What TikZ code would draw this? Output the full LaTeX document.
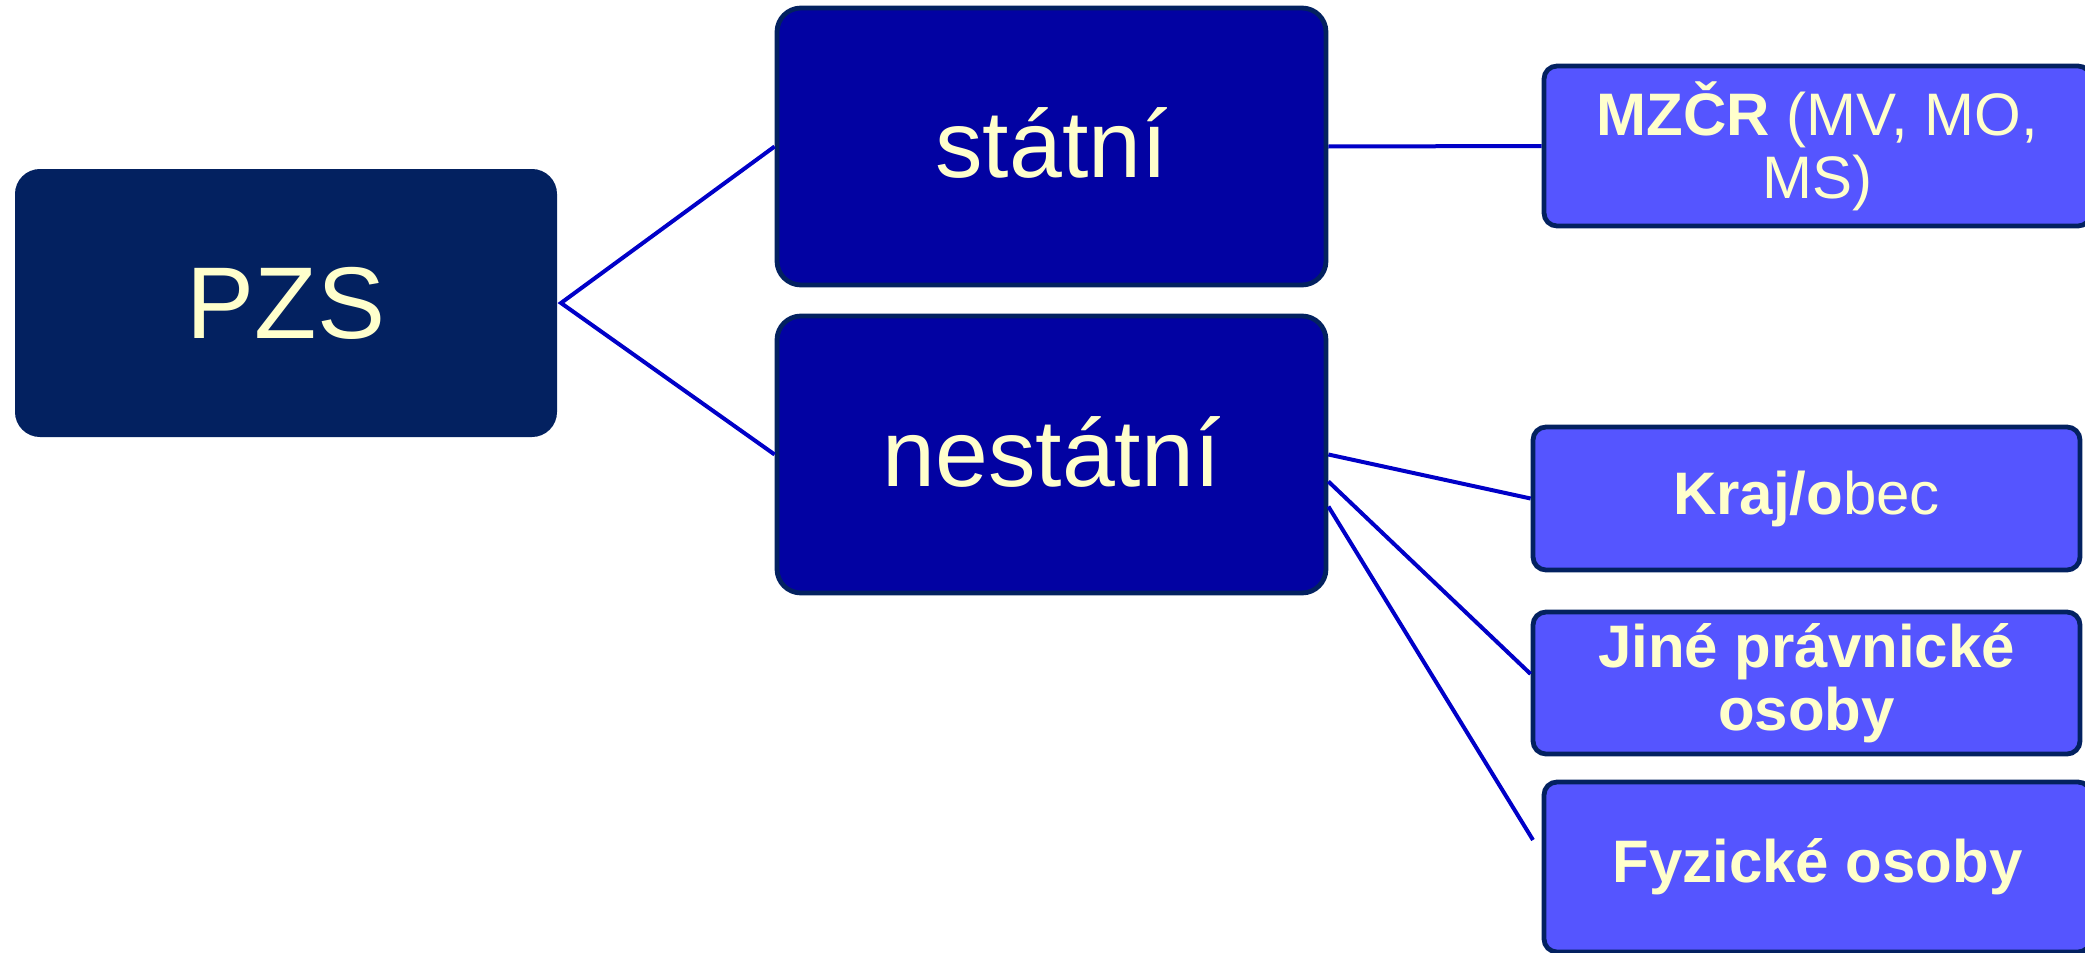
\documentclass[tikz,border=0pt]{standalone}
\usepackage{fontspec}
\setmainfont{Liberation Sans}
\usetikzlibrary{calc}
\definecolor{navy}{RGB}{3,33,96}
\definecolor{midblue}{RGB}{2,2,162}
\definecolor{lightblue}{RGB}{85,85,255}
\definecolor{txt}{RGB}{255,255,204}
\definecolor{linkc}{RGB}{0,0,200}
\begin{document}
\begin{tikzpicture}[x=0.5pt,y=-0.5pt,
  rootbox/.style={rectangle, rounded corners=12pt, fill=navy, draw=navy, line width=1pt,
     minimum width=270pt, minimum height=133pt, inner sep=0pt, text=txt,
     font=\fontsize{51}{56}\selectfont},
  midbox/.style={rectangle, rounded corners=12pt, fill=midblue, draw=navy, line width=2.4pt,
     minimum width=274.5pt, minimum height=138.5pt, inner sep=0pt, text=txt,
     font=\fontsize{47.5}{52}\selectfont},
  leafbox/.style={rectangle, rounded corners=6.5pt, fill=lightblue, draw=navy, line width=2.4pt,
     minimum width=273.5pt, inner sep=0pt, text=txt, align=center,
     font=\fontsize{30}{31.5}\selectfont},
  link/.style={draw=linkc, line width=2pt}]
\useasboundingbox (0,0) rectangle (2085,953);
\node[rootbox] (pzs) at (286,303) {PZS};
\node[midbox] (statni) at (1051.5,146.5) {\raisebox{4pt}{státní}};
\node[midbox] (nestatni) at (1051.5,454.5) {\raisebox{3pt}{nestátní}};
\node[leafbox, minimum height=80pt] (mzcr) at (1817.5,146) {\textbf{MZČR} (MV, MO,\\MS)};
\node[leafbox, minimum height=71.5pt] (kraj) at (1806.5,498.5) {\raisebox{-1pt}{\textbf{Kraj/o}bec}};
\node[leafbox, minimum height=71pt] (jine) at (1806.5,683) {\textbf{Jiné právnické}\\\textbf{osoby}};
\node[leafbox, minimum height=85pt] (fyz) at (1817.5,867) {\raisebox{-2pt}{\textbf{Fyzické osoby}}};
\coordinate (fyzend) at (1533,840);
\draw[link] (statni.west) -- ($(pzs.east)+(4,0)$) -- (nestatni.west);
\draw[link] (statni.east) -- (mzcr.west);
\draw[link] (nestatni.east) -- (kraj.west);
\draw[link] ($(nestatni.east)+(0,27)$) -- ($(jine.west)+(0,-9)$);
\draw[link] ($(nestatni.east)+(0,52)$) -- (fyzend);
\end{tikzpicture}
\end{document}
